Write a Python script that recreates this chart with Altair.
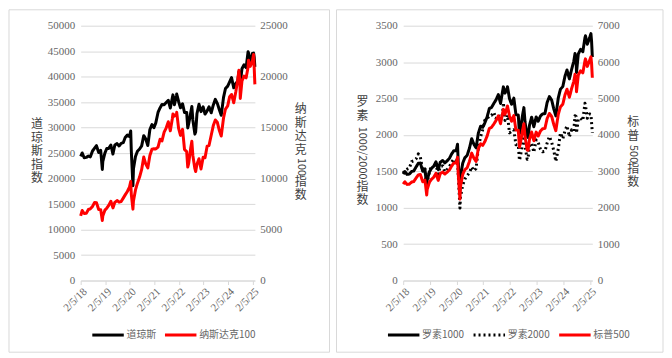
import altair as alt
import pandas as pd

dates = [
    "2018-02-05", "2018-02-28", "2018-03-29", "2018-04-30", "2018-05-31", "2018-06-29", "2018-07-31", "2018-08-31", "2018-09-28", "2018-10-31", "2018-11-30", "2018-12-24",
    "2018-12-31",
    "2019-01-31", "2019-02-28", "2019-03-29", "2019-04-30", "2019-05-31", "2019-06-28", "2019-07-31", "2019-08-30", "2019-09-30", "2019-10-31", "2019-11-29", "2019-12-31",
    "2020-01-31", "2020-02-19", "2020-02-28", "2020-03-23", "2020-03-31", "2020-04-30", "2020-05-29", "2020-06-30", "2020-07-31", "2020-08-31", "2020-09-30", "2020-10-30", "2020-11-30", "2020-12-31",
    "2021-01-29", "2021-02-26", "2021-03-31", "2021-04-30", "2021-05-28", "2021-06-30", "2021-07-30", "2021-08-31", "2021-09-30", "2021-10-29", "2021-11-08", "2021-11-30", "2021-12-31",
    "2022-01-03", "2022-01-31", "2022-02-28", "2022-03-31", "2022-04-29", "2022-05-31", "2022-06-16", "2022-06-30", "2022-07-29", "2022-08-16", "2022-08-31", "2022-09-30", "2022-10-12", "2022-10-31", "2022-11-30", "2022-12-30",
    "2023-01-31", "2023-02-28", "2023-03-31", "2023-04-28", "2023-05-31", "2023-06-30", "2023-07-31", "2023-08-31", "2023-09-29", "2023-10-27", "2023-11-30", "2023-12-29",
    "2024-01-31", "2024-02-29", "2024-03-28", "2024-04-30", "2024-05-31", "2024-06-28", "2024-07-16", "2024-07-31", "2024-08-05", "2024-08-30", "2024-09-30", "2024-10-31", "2024-11-29", "2024-12-06", "2024-12-31",
    "2025-01-31", "2025-02-19", "2025-02-28", "2025-03-10",
]

dow = [
    24346, 25029, 24103, 24163, 24416, 24271, 25415, 25965, 26458, 25116, 25538, 21792,
    23327,
    24999, 25916, 25929, 26593, 24815, 26600, 26864, 26403, 26917, 27046, 28051, 28538,
    28256, 29348, 25409, 18592, 21917, 24346, 25383, 25813, 26428, 28430, 27782, 26502, 29638, 30606,
    29983, 30932, 32982, 33875, 34529, 34503, 34935, 35361, 33844, 35820, 36432, 34484, 36338,
    36585, 35132, 33893, 34678, 32977, 32990, 29927, 30775, 32845, 34152, 31510, 28726, 29210, 32733, 34590, 33147,
    34086, 32657, 33274, 34098, 32908, 34408, 35560, 34722, 33508, 32418, 35951, 37690,
    38150, 38996, 39807, 37816, 38686, 39119, 40954, 40843, 38703, 41563, 42330, 41763, 44911, 44642, 42544,
    44544, 44627, 43841, 41912,
]

ndx = [
    6350, 6870, 6581, 6606, 6968, 7040, 7272, 7660, 7627, 6967, 6949, 5900,
    6330,
    6906, 7097, 7378, 7781, 7127, 7671, 7848, 7692, 7750, 8084, 8403, 8733,
    9150, 9718, 8462, 7006, 7813, 8890, 9555, 10156, 10905, 12111, 11418, 11052, 12268, 12888,
    12925, 12909, 13091, 13860, 13687, 14554, 14959, 15583, 14690, 15850, 16350, 16135, 16320,
    16501, 14930, 14237, 14838, 12855, 12643, 11128, 11503, 12947, 13667, 12272, 10971, 10692, 11405, 11951, 10940,
    12102, 12043, 13181, 13246, 14254, 15179, 15757, 15501, 14715, 14180, 15948, 16826,
    17137, 18044, 18255, 17441, 18537, 19683, 20634, 19362, 17867, 19575, 20061, 19890, 20930, 21622, 21012,
    21478, 22175, 20884, 19250,
]

sp500 = [
    2649, 2714, 2641, 2648, 2705, 2718, 2816, 2902, 2914, 2712, 2760, 2351,
    2507,
    2704, 2784, 2834, 2946, 2752, 2942, 2980, 2926, 2977, 3038, 3141, 3231,
    3226, 3386, 2954, 2237, 2585, 2912, 3044, 3100, 3271, 3500, 3363, 3270, 3622, 3756,
    3714, 3811, 3973, 4181, 4204, 4298, 4395, 4523, 4308, 4605, 4702, 4567, 4766,
    4797, 4516, 4374, 4530, 4132, 4132, 3667, 3785, 4130, 4305, 3955, 3586, 3577, 3872, 4080, 3840,
    4077, 3970, 4109, 4169, 4180, 4450, 4589, 4508, 4288, 4117, 4568, 4770,
    4846, 5096, 5254, 5036, 5278, 5460, 5667, 5522, 5186, 5648, 5762, 5705, 6032, 6090, 5882,
    6041, 6144, 5955, 5570,
]

r1000 = [
    1462, 1498, 1458, 1462, 1497, 1505, 1559, 1611, 1614, 1500, 1527, 1298,
    1384,
    1495, 1542, 1568, 1631, 1523, 1626, 1648, 1616, 1643, 1678, 1736, 1784,
    1783, 1872, 1632, 1235, 1429, 1611, 1686, 1720, 1817, 1948, 1872, 1823, 2024, 2120,
    2105, 2163, 2249, 2364, 2375, 2433, 2481, 2554, 2432, 2604, 2660, 2574, 2645,
    2662, 2497, 2421, 2505, 2278, 2274, 2017, 2082, 2273, 2375, 2180, 1978, 1966, 2130, 2244, 2112,
    2247, 2188, 2260, 2288, 2293, 2445, 2526, 2480, 2358, 2262, 2510, 2627,
    2665, 2804, 2892, 2770, 2902, 3007, 3117, 3041, 2856, 3112, 3175, 3143, 3334, 3362, 3246,
    3330, 3392, 3281, 3070,
]

r2000 = [
    1477, 1512, 1529, 1542, 1634, 1643, 1671, 1740, 1696, 1511, 1533, 1267,
    1349,
    1499, 1576, 1540, 1591, 1466, 1567, 1575, 1495, 1523, 1562, 1625, 1668,
    1614, 1696, 1476, 995, 1153, 1310, 1394, 1441, 1480, 1561, 1508, 1538, 1819, 1975,
    2073, 2201, 2221, 2266, 2269, 2311, 2226, 2274, 2204, 2297, 2442, 2199, 2245,
    2272, 2028, 2048, 2070, 1864, 1864, 1650, 1708, 1885, 2017, 1844, 1665, 1682, 1846, 1887, 1761,
    1932, 1897, 1802, 1768, 1774, 1889, 1978, 1900, 1785, 1636, 1809, 2027,
    1947, 2055, 2125, 1974, 2070, 2048, 2264, 2254, 2026, 2218, 2230, 2197, 2435, 2408, 2230,
    2288, 2280, 2163, 2030,
]

tick_years = [2018, 2019, 2020, 2021, 2022, 2023, 2024, 2025]
dow_ticks = [0, 5000, 10000, 15000, 20000, 25000, 30000, 35000, 40000, 45000, 50000]
ndx_ticks = [0, 5000, 10000, 15000, 20000, 25000]
russell_ticks = [0, 500, 1000, 1500, 2000, 2500, 3000, 3500]
sp_ticks = [0, 1000, 2000, 3000, 4000, 5000, 6000, 7000]

left_names = ["道琼斯", "纳斯达克100"]
right_names = ["罗素1000", "罗素2000", "标普500"]

for s in (dow, ndx, sp500, r1000, r2000):
    assert len(s) == len(dates), len(s)

FONT_NUM = "Liberation Serif"
FONT_CJK = "Noto Sans CJK SC"
LABEL = "#666666"
TITLE = "#404040"
GRID = "#d9d9d9"

ts = [d + "T00:00:00" for d in dates]


def frame(values, name):
    return pd.DataFrame({"date": ts, "value": values, "series": [name] * len(ts)})


def x_enc():
    return alt.X(
        "date:T",
        scale=alt.Scale(domain=[alt.DateTime(year=2018, month=2, date=5),
                                alt.DateTime(year=2025, month=3, date=10)]),
        axis=alt.Axis(
            values=[alt.DateTime(year=y, month=2, date=5) for y in tick_years],
            labelExpr="timeFormat(datum.value, '%-m/%-d/%y')",
            labelAngle=-45, labelAlign="right", labelBaseline="top",
            labelFont=FONT_NUM, labelFontSize=11, labelColor=LABEL,
            labelPadding=1, labelOverlap=False, labelFlush=False,
            domainColor=GRID, tickColor=GRID, tickSize=4, grid=False, title=None,
        ),
        title=None,
    )


def y_axis(ticks, orient, grid):
    return alt.Axis(values=ticks, format="d", orient=orient, grid=grid, gridColor=GRID,
                    domain=False, ticks=False, labelPadding=6 if orient == "left" else 5,
                    labelFont=FONT_NUM, labelFontSize=11, labelColor=LABEL, title=None)


def legend(x):
    return alt.Legend(orient="none", legendX=x, legendY=293, direction="horizontal", title=None,
                      symbolType="stroke", symbolSize=1000, symbolStrokeWidth=3,
                      labelFont=FONT_CJK, labelFontSize=10, labelColor=LABEL,
                      columnPadding=2, labelOffset=1)


def border(x1, x2):
    return alt.Chart(pd.DataFrame({"b": [0]})).mark_rect(filled=False, color=GRID, strokeWidth=1).encode(
        x=alt.value(x1), x2=alt.value(x2), y=alt.value(-16), y2=alt.value(328))


def stacked(chars, x, y):
    return alt.Chart(pd.DataFrame({"b": [0]})).mark_text(
        text=chars, font=FONT_CJK, fontSize=12, color=TITLE, align="center", baseline="top", lineHeight=13.5
    ).encode(x=alt.value(x), y=alt.value(y))


def rotated(txt, x, y):
    return alt.Chart(pd.DataFrame({"b": [0]})).mark_text(
        text=txt, font=FONT_CJK, fontSize=11, color=TITLE, align="center", baseline="middle", angle=90
    ).encode(x=alt.value(x), y=alt.value(y))


# ---------- left panel ----------
lcolor = alt.Scale(domain=left_names, range=["#000000", "#ff0000"])
dow_line = alt.Chart(frame(dow, left_names[0])).mark_line(strokeWidth=3, strokeJoin="round").encode(
    x=x_enc(),
    y=alt.Y("value:Q", scale=alt.Scale(domain=[0, 50000]), axis=y_axis(dow_ticks, "left", True)),
    color=alt.Color("series:N", scale=lcolor, legend=legend(10)),
)
ndx_line = alt.Chart(frame(ndx, left_names[1])).mark_line(strokeWidth=3, strokeJoin="round").encode(
    x=x_enc(),
    y=alt.Y("value:Q", scale=alt.Scale(domain=[0, 25000]), axis=y_axis(ndx_ticks, "right", False)),
    color=alt.Color("series:N", scale=lcolor, legend=legend(10)),
)
left = alt.layer(
    border(-72, 250),
    dow_line, ndx_line,
    stacked(["道", "琼", "斯", "指", "数"], -44, 94),
    stacked(["纳", "斯", "达", "克"], 221, 79),
    rotated("100", 221, 142),
    stacked(["指", "数"], 221, 152),
).resolve_scale(y="independent").properties(width=175, height=256)

# ---------- right panel ----------
rcolor = alt.Scale(domain=right_names, range=["#000000", "#000000", "#ff0000"])
rdash = alt.Scale(domain=right_names, range=[[1, 0], [2, 3], [1, 0]])
russell_df = pd.concat([frame(r1000, right_names[0]), frame(r2000, right_names[1])], ignore_index=True)
russell_line = alt.Chart(russell_df).mark_line(strokeWidth=3, strokeJoin="round").encode(
    x=x_enc(),
    y=alt.Y("value:Q", scale=alt.Scale(domain=[0, 3500]), axis=y_axis(russell_ticks, "left", True)),
    color=alt.Color("series:N", scale=rcolor, legend=legend(-17)),
    strokeDash=alt.StrokeDash("series:N", scale=rdash, legend=legend(-17)),
)
sp_line = alt.Chart(frame(sp500, right_names[2])).mark_line(strokeWidth=3, strokeJoin="round").encode(
    x=x_enc(),
    y=alt.Y("value:Q", scale=alt.Scale(domain=[0, 7000]), axis=y_axis(sp_ticks, "right", False)),
    color=alt.Color("series:N", scale=rcolor, legend=legend(-17)),
    strokeDash=alt.StrokeDash("series:N", scale=rdash, legend=legend(-17)),
)
right = alt.layer(
    border(-67, 261),
    russell_line, sp_line,
    stacked(["罗", "素"], -41, 72),
    rotated("1000/2000", -41, 128),
    stacked(["指", "数"], -41, 157),
    stacked(["标", "普"], 231, 92),
    rotated("500", 231, 129),
    stacked(["指", "数"], 231, 139),
).resolve_scale(y="independent").properties(width=190, height=256)

chart = alt.hconcat(left, right, spacing=5).resolve_scale(
    color="independent", strokeDash="independent"
).properties(padding=0).configure_view(stroke=None)

chart.save("out.html", embed_options={"renderer": "svg", "actions": False})
